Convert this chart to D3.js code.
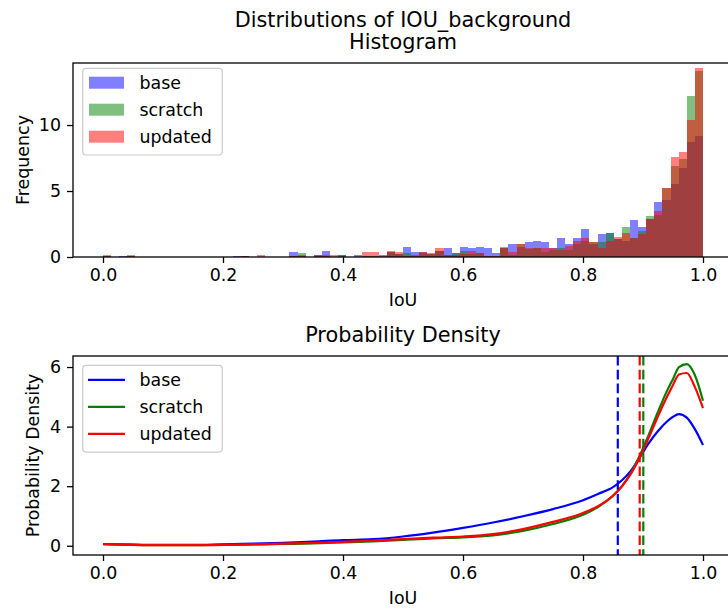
<!DOCTYPE html>
<html><head><meta charset="utf-8">
<script src="https://cdn.jsdelivr.net/npm/d3@7"></script>
<style>
body{margin:0;background:#fff}
text{font-family:"DejaVu Sans",sans-serif;fill:#000}
</style>
</head><body>
<svg id="chart" width="728" height="614"></svg>
<script>
// ---------- data ----------
const seriesNames = ["base", "scratch", "updated"];
const seriesColors = ["blue", "green", "red"];
const binCount = 74;               // histogram bins over [0, 1]
const xTickValues = [0.0, 0.2, 0.4, 0.6, 0.8, 1.0];
const histYTicks = [0, 5, 10];
const densityYTicks = [0, 2, 4, 6];

// histogram heights (density-normalised "Frequency"), one value per bin
const baseHist = [0.10,0,0.10,0.10,0,0,0,0,0,0,0,0,0,0,0,0,0.10,0.10,0,0,0,0,0,0.35,0.05,0,0.15,0.45,0,0.15,0,0.15,0.05,0.05,0.15,0.35,0.20,0.75,0.35,0.35,0.25,0.48,0.65,0.33,0.73,0.65,0.73,0.65,0.33,0.65,0.96,0.78,1.10,1.24,1.10,0.65,1.41,0.95,1.41,2.10,0.98,1.74,1.79,1.36,1.21,2.80,2.30,2.87,4.15,4.30,5.50,6.72,8.70,9.17];
const scratchHist = [0.10,0,0,0.10,0,0,0,0,0,0,0,0,0,0,0,0,0,0.08,0,0,0,0,0,0.05,0.30,0,0.05,0.05,0,0.15,0,0,0.05,0.05,0,0.35,0.20,0.30,0.15,0.30,0.20,0.45,0.15,0.33,0.45,0.20,0.30,0.10,0.10,0.73,0.15,0.96,0.60,0.65,0.40,0.55,0.65,0.55,1.02,1.21,1.16,1.16,1.79,1.36,2.30,1.41,1.98,3.08,3.20,5.20,6.90,7.45,12.2,14.1];
const updatedHist = [0.15,0,0,0.12,0,0,0,0,0,0,0,0,0,0,0,0,0,0.10,0,0.12,0,0,0,0.10,0.15,0,0.15,0.15,0.15,0,0,0,0.35,0.35,0.05,0.45,0.35,0.10,0.10,0.35,0.33,0.65,0.15,0.15,0.20,0.45,0.30,0.10,0.10,0.65,0.35,0.96,0.65,0.65,0.70,0.65,0.50,0.80,1.22,1.41,1.16,0.66,1.25,1.49,1.84,1.41,1.73,2.87,3.52,5.20,7.55,7.95,10.4,14.3];

// kernel density estimates
const densityX = [0,0.05,0.1,0.15,0.2,0.25,0.3,0.35,0.4,0.45,0.5,0.55,0.6,0.65,0.7,0.75,0.8,0.825,0.85,0.865,0.88,0.895,0.91,0.925,0.94,0.95,0.96,0.973,0.986,1.0];
const baseDensity = [0.06,0.04,0.03,0.03,0.05,0.07,0.10,0.14,0.19,0.22,0.31,0.44,0.60,0.78,0.99,1.23,1.53,1.74,1.97,2.20,2.52,2.98,3.45,3.85,4.17,4.33,4.42,4.30,3.93,3.38];
const scratchDensity = [0.05,0.03,0.02,0.02,0.03,0.04,0.06,0.08,0.11,0.15,0.20,0.25,0.28,0.35,0.50,0.73,1.04,1.30,1.68,2.00,2.45,3.05,3.75,4.50,5.20,5.60,6.00,6.10,5.75,4.87];
const updatedDensity = [0.05,0.03,0.02,0.02,0.03,0.05,0.07,0.10,0.13,0.17,0.22,0.27,0.31,0.39,0.56,0.80,1.10,1.33,1.68,2.00,2.42,2.98,3.65,4.35,5.00,5.40,5.75,5.80,5.35,4.62];
const meanValues = [0.858, 0.9005, 0.8945];

const histSeries = [baseHist, scratchHist, updatedHist];
const densitySeries = [baseDensity, scratchDensity, updatedDensity];

// ---------- layout ----------
const svg = d3.select("#chart");
const axL = 73, axR = 733;
const p1 = {top: 63, bottom: 257};
const p2 = {top: 356, bottom: 555};
const FS = 17.4;
const LW = 2.2;

const x = d3.scaleLinear().domain([-0.05, 1.05]).range([axL, axR]);
const y1 = d3.scaleLinear().domain([0, 14.7]).range([p1.bottom, p1.top]);
const y2 = d3.scaleLinear().domain([-0.31, 6.37]).range([p2.bottom, p2.top]);

// titles
svg.append("text").attr("x", 403).attr("y", 27).attr("text-anchor", "middle")
  .style("font-size", "20.8px").text("Distributions of IOU_background");
svg.append("text").attr("x", 403).attr("y", 49).attr("text-anchor", "middle")
  .style("font-size", "20.8px").text("Histogram");
svg.append("text").attr("x", 403).attr("y", 342).attr("text-anchor", "middle")
  .style("font-size", "20.8px").text("Probability Density");

// ---------- histogram ----------
const binEdges = d3.range(binCount + 1).map(i => i / binCount);
const g1 = svg.append("g");
histSeries.forEach((vals, s) => {
  g1.append("g").selectAll("rect").data(vals).join("rect")
    .attr("x", (d, i) => x(binEdges[i]))
    .attr("width", (d, i) => x(binEdges[i + 1]) - x(binEdges[i]))
    .attr("y", d => y1(d))
    .attr("height", d => y1(0) - y1(d))
    .attr("fill", seriesColors[s]).attr("fill-opacity", 0.5)
    .attr("shape-rendering", "crispEdges");
});

// ---------- density ----------
const g2 = svg.append("g");
const line = d3.line().x((d, i) => x(densityX[i])).y(d => y2(d)).curve(d3.curveMonotoneX);
densitySeries.forEach((vals, s) => {
  g2.append("path").datum(vals).attr("d", line)
    .attr("fill", "none").attr("stroke", seriesColors[s]).attr("stroke-width", LW)
    .attr("stroke-linejoin", "round");
});
meanValues.forEach((m, s) => {
  g2.append("line").attr("x1", x(m)).attr("x2", x(m))
    .attr("y1", p2.top).attr("y2", p2.bottom)
    .attr("stroke", seriesColors[s]).attr("stroke-width", LW)
    .attr("stroke-dasharray", "9.6,4.2");
});

// ---------- axes ----------
function styleAxis(g) {
  g.select(".domain").remove();
  g.selectAll(".tick line").attr("stroke", "#000").attr("stroke-width", 1.3);
  g.selectAll(".tick text").style("font-size", FS + "px").attr("fill", "#000")
    .style("font-family", '"DejaVu Sans",sans-serif');
}
function drawAxes(panel, yScale, yTicks, yLabel, yLabelX) {
  svg.append("g").attr("transform", `translate(0,${panel.bottom})`)
    .call(d3.axisBottom(x).tickValues(xTickValues).tickFormat(d3.format(".1f"))
      .tickSize(6).tickPadding(6)).call(styleAxis);
  svg.append("g").attr("transform", `translate(${axL},0)`)
    .call(d3.axisLeft(yScale).tickValues(yTicks).tickFormat(d3.format("d"))
      .tickSize(6).tickPadding(6)).call(styleAxis);
  svg.append("rect").attr("x", axL).attr("y", panel.top)
    .attr("width", axR - axL).attr("height", panel.bottom - panel.top)
    .attr("fill", "none").attr("stroke", "#000").attr("stroke-width", 1.3);
  svg.append("text").attr("x", (axL + axR) / 2).attr("y", panel.bottom + 49)
    .attr("text-anchor", "middle").style("font-size", FS + "px").text("IoU");
  svg.append("text")
    .attr("transform", `translate(${yLabelX},${(panel.top + panel.bottom) / 2}) rotate(-90)`)
    .attr("text-anchor", "middle").style("font-size", FS + "px").text(yLabel);
}
drawAxes(p1, y1, histYTicks, "Frequency", 29);
drawAxes(p2, y2, densityYTicks, "Probability Density", 39);

// ---------- legends ----------
function legend(top, kind) {
  const g = svg.append("g");
  g.append("rect").attr("x", 82.7).attr("y", top).attr("width", 139.6).attr("height", 86.7)
    .attr("rx", 3.5).attr("fill", "#fff").attr("fill-opacity", 0.8)
    .attr("stroke", "#cccccc").attr("stroke-width", 1.2);
  seriesNames.forEach((name, i) => {
    const cy = top + 14.4 + i * 27;
    if (kind === "patch") {
      g.append("rect").attr("x", 89).attr("y", cy - 6).attr("width", 35).attr("height", 12)
        .attr("fill", seriesColors[i]).attr("fill-opacity", 0.5);
    } else {
      g.append("line").attr("x1", 88).attr("x2", 125).attr("y1", cy).attr("y2", cy)
        .attr("stroke", seriesColors[i]).attr("stroke-width", LW);
    }
    g.append("text").attr("x", 139.5).attr("y", cy + 6.2)
      .style("font-size", FS + "px").text(name);
  });
}
legend(68.3, "patch");
legend(365.4, "line");
</script>
</body></html>
